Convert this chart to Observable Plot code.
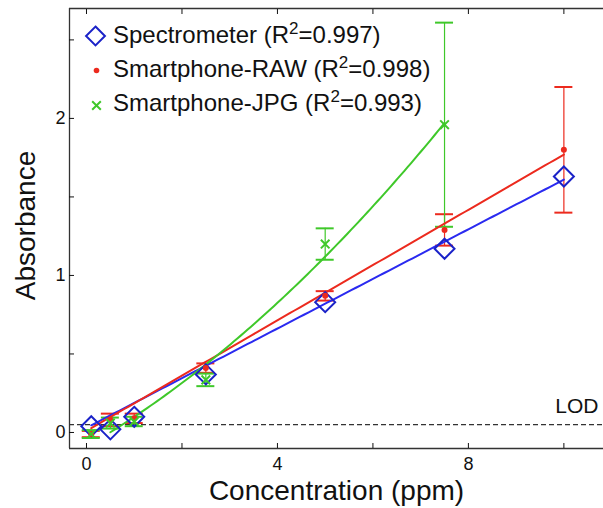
<!DOCTYPE html>
<html><head><meta charset="utf-8">
<script src="https://cdn.jsdelivr.net/npm/d3@7"></script>
<script src="https://cdn.jsdelivr.net/npm/@observablehq/plot@0.6"></script>
<style>
body{margin:0;background:#fff;font-family:"Liberation Sans",Arial,sans-serif}
#wrap{position:relative;width:603px;height:508px;overflow:hidden}
</style></head><body><div id="wrap"></div>
<script>
// ---- data ----
const conc = [0.1, 0.5, 1, 2.5, 5, 7.5, 10];
const concJpg = [0.1, 0.5, 1, 2.5, 5, 7.5];
const spectrometer = [0.04, 0.02, 0.10, 0.37, 0.83, 1.17, 1.63];
const raw = [-0.01, 0.08, 0.09, 0.41, 0.87, 1.29, 1.80];
const rawErr = [0.02, 0.04, 0.03, 0.03, 0.03, 0.10, 0.40];
const jpg = [-0.01, 0.06, 0.07, 0.335, 1.20, 1.96];
const jpgErr = [0.025, 0.035, 0.03, 0.04, 0.10, 0.65];
// fit coefficients [a, b, c] for y = a + b x + c x^2, and fit ranges
const fitSpec = [0.03, 0.158, 0];
const fitRaw = [0.01, 0.176, 0];
const fitJpg = [-0.09, 0.1765, 0.0131];
const fitSpecRange = [0.1, 10];
const fitRawRange = [0.1, 10];
const fitJpgRange = [0.5, 7.5];
const lod = 0.05;
const xTicks = [0, 4, 8];
const xMinorTicks = [0, 2, 4, 6, 8, 10];
const yTicks = [0, 1, 2];
const yMinorTicks = [0, 0.5, 1, 1.5, 2, 2.5];
const legendNames = ["Spectrometer", "Smartphone-RAW", "Smartphone-JPG"];
const legendR2 = ["0.997", "0.998", "0.993"];

// ---- styling ----
const blue = "#2a2af0", blueMark = "#1a22c8", red = "#ec2a1e", green = "#3fc82a";
const xDomain = [-0.356, 10.83], yDomain = [-0.102, 2.70];

const specData = conc.map((x, i) => ({x, y: spectrometer[i]}));
const rawData = conc.map((x, i) => ({x, y: raw[i], e: rawErr[i]}));
const jpgData = concJpg.map((x, i) => ({x, y: jpg[i], e: jpgErr[i]}));
function fitCurve(c, [a, b]) {
  return d3.range(0, 101).map(k => { const x = a + (b - a) * k / 100; return {x, y: c[0] + c[1] * x + c[2] * x * x}; });
}
function errorMarks(data, color) {
  return [
    Plot.ruleX(data, {x: "x", y1: d => d.y - d.e, y2: d => d.y + d.e, stroke: color, strokeWidth: 1.2}),
    Plot.ruleY(data, {x1: "x", x2: "x", y: d => d.y + d.e, insetLeft: -9, insetRight: -9, stroke: color, strokeWidth: 2}),
    Plot.ruleY(data, {x1: "x", x2: "x", y: d => d.y - d.e, insetLeft: -9, insetRight: -9, stroke: color, strokeWidth: 2})
  ];
}

const plot = Plot.plot({
  width: 603, height: 508,
  marginLeft: 69, marginRight: 0, marginTop: 8, marginBottom: 60,
  style: {fontFamily: "'Liberation Sans', Arial, sans-serif", background: "transparent", color: "#111"},
  x: {domain: xDomain},
  y: {domain: yDomain},
  marks: [
    Plot.ruleY([lod], {stroke: "#333", strokeDasharray: "5,3", strokeWidth: 1.2}),
    Plot.text([lod], {y: d => d, frameAnchor: "right", text: () => "LOD", textAnchor: "end", dx: -5, dy: -18, fontSize: 21}),
    ...errorMarks(rawData, red),
    ...errorMarks(jpgData, green),
    Plot.line(fitCurve(fitSpec, fitSpecRange), {x: "x", y: "y", stroke: blue, strokeWidth: 2}),
    Plot.line(fitCurve(fitRaw, fitRawRange), {x: "x", y: "y", stroke: red, strokeWidth: 2}),
    Plot.line(fitCurve(fitJpg, fitJpgRange), {x: "x", y: "y", stroke: green, strokeWidth: 2}),
    Plot.dot(specData, {x: "x", y: "y", symbol: "diamond2", r: 9, stroke: blueMark, strokeWidth: 2, fill: "none"}),
    Plot.dot(rawData, {x: "x", y: "y", r: 3, fill: red, stroke: "none"}),
    Plot.dot(jpgData, {x: "x", y: "y", symbol: "times", r: 4, stroke: green, strokeWidth: 2}),
    // frame (left, bottom, top)
    Plot.ruleX([xDomain[0]], {stroke: "#333", strokeWidth: 1.3}),
    Plot.ruleY([yDomain[0]], {stroke: "#333", strokeWidth: 1.3}),
    Plot.ruleY([yDomain[1]], {stroke: "#333", strokeWidth: 1.3}),
    Plot.axisX({ticks: xMinorTicks, tickSize: -5, tickPadding: 14, fontSize: 18, label: null,
      tickFormat: d => xTicks.includes(d) ? String(d) : ""}),
    Plot.axisX({anchor: "top", ticks: xMinorTicks, tickSize: -5, label: null, tickFormat: () => ""}),
    Plot.axisY({ticks: yMinorTicks, tickSize: -5, tickPadding: 9, fontSize: 18, label: null,
      tickFormat: d => yTicks.includes(d) ? String(d) : ""}),
    Plot.text(["Concentration (ppm)"], {text: d => d, frameAnchor: "bottom", lineAnchor: "middle", dy: 43, fontSize: 28}),
    Plot.text(["Absorbance"], {text: d => d, frameAnchor: "left", textAnchor: "middle", dx: -43, dy: -3, rotate: -90, fontSize: 28}),
    // legend markers
    Plot.dot([0], {frameAnchor: "top-left", dx: 26, dy: 27.5, symbol: "diamond2", r: 8.5, stroke: blueMark, strokeWidth: 2, fill: "none"}),
    Plot.dot([0], {frameAnchor: "top-left", dx: 27, dy: 62, r: 2.8, fill: red, stroke: "none"}),
    Plot.dot([0], {frameAnchor: "top-left", dx: 27, dy: 97, symbol: "times", r: 4, stroke: green, strokeWidth: 2})
  ]
});
document.getElementById("wrap").appendChild(plot);

// legend labels with superscript
const g = d3.select(plot).append("g").attr("font-size", 24).attr("fill", "#111")
  .attr("text-anchor", "start")
  .attr("font-family", "'Liberation Sans', Arial, sans-serif");
legendNames.forEach((name, i) => {
  const t = g.append("text").attr("x", 113).attr("y", 43 + 34 * i);
  t.append("tspan").text(name + " (R");
  t.append("tspan").attr("font-size", 17).attr("dy", -9).text("2");
  t.append("tspan").attr("dy", 9).text("=" + legendR2[i] + ")");
});
</script></body></html>
